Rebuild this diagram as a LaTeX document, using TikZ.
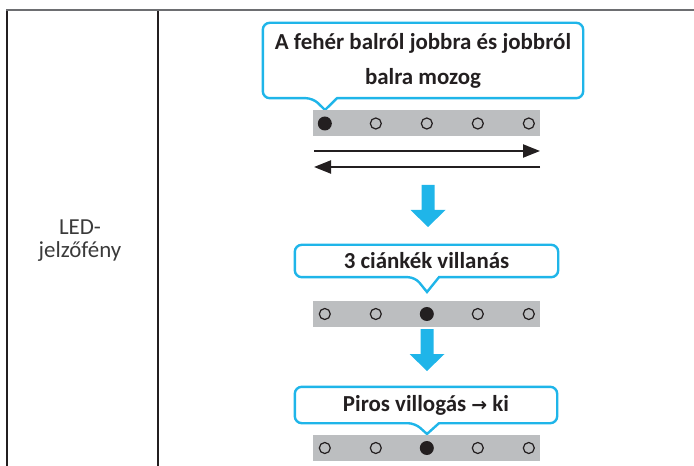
\documentclass[tikz,border=0pt]{standalone}
\usepackage{fontspec}
\setmainfont{Carlito}
\newfontfamily\arrowfont{DejaVu Sans}
\usetikzlibrary{arrows.meta,positioning}
\definecolor{LedCyan}  {HTML}{1FB5E9}
\definecolor{BarGray}  {HTML}{BCBEC0}
\definecolor{RuleGray} {HTML}{6D6E71}
\definecolor{InkBlack} {HTML}{231F20}
\definecolor{LabelText}{HTML}{3A3A3A}
\tikzset{
  ledbar/.style={fill=BarGray,minimum width=227bp,minimum height=26bp,inner sep=0pt},
  ledoff/.style={circle,draw=InkBlack,line width=1.2bp,minimum size=11bp,inner sep=0pt},
  ledon/.style={circle,fill=InkBlack,minimum size=14bp,inner sep=0pt},
  bubble/.style={inner sep=0pt,align=center,text=InkBlack,
                 font=\fontsize{23}{35}\selectfont\bfseries},
  bubbleline/.style={draw=LedCyan,line width=2.4bp},
  moveline/.style={draw=InkBlack,line width=2.2bp,-{Triangle[length=17bp,width=13bp]}},
  tablerule/.style={draw=RuleGray,line width=2bp},
  colrule/.style={draw=InkBlack,line width=1.3bp},
  downarrow/.pic={
    \fill[LedCyan] (-6.5,0) -- (6.5,0) -- (6.5,25) -- (17.5,25) -- (0,42)
      -- (-17.5,25) -- (-6.5,25) -- cycle;
  }
}
% bubble outline with pointer down to #2
\newcommand{\bubbleoutline}[2]{%
  \draw[bubbleline] (#2) -- ([xshift=12bp]#2 |- #1.south) [rounded corners=7bp]
    -- (#1.south east) -- (#1.north east) -- (#1.north west) -- (#1.south west)
    -- ([xshift=-12bp]#2 |- #1.south) [sharp corners] -- cycle;
}
% row of five leds, #3 is the lit one
\newcommand{\ledrow}[3]{%
  \node[ledbar] (#1) at (426.5,#2) {};
  \foreach \k [evaluate=\k as \dx using 12+(\k-1)*51] in {1,...,5}{
    \ifnum\k=#3
      \node[ledon] (#1-\k) at ([xshift=\dx bp]#1.west) {};
    \else
      \node[ledoff] (#1-\k) at ([xshift=\dx bp]#1.west) {};
    \fi
  }
}

\begin{document}
\begin{tikzpicture}[x=1bp,y=-1bp]
  \useasboundingbox (0,0) rectangle (694,466);

  % table frame
  \draw[colrule] (7,10) -- (7,466);
  \draw[colrule] (158,10) -- (158,466);
  \draw[tablerule] (6,10) -- (694,10);

  \node[text=LabelText,align=center,font=\fontsize{23}{23}\selectfont]
    (ledlabel) at (80,241) {LED-\\jelzőfény};

  % step 1
  \node[bubble,minimum width=320bp,minimum height=75bp] (bubble1) at (423,60.5)
    {A fehér balról jobbra és jobbról\\balra mozog};
  \coordinate (tip1) at (325,110);
  \bubbleoutline{bubble1}{tip1}
  \ledrow{bar1}{123.5}{1}

  \coordinate (right0) at (314,151);
  \coordinate (right1) at (540,151);
  \coordinate (left0) at (540,167);
  \coordinate (left1) at (314,167);
  \draw[moveline] (right0) -- (right1);
  \draw[moveline] (left0) -- (left1);

  \pic at (428,185) {downarrow};

  % step 2
  \node[bubble,minimum width=263bp,minimum height=32bp] (bubble2) at (426.5,261)
    {3 ciánkék villanás};
  \coordinate (tip2) at (427,292);
  \bubbleoutline{bubble2}{tip2}
  \ledrow{bar2}{314}{3}

  \pic at (427,329) {downarrow};

  % step 3
  \node[bubble,minimum width=262bp,minimum height=36bp] (bubble3) at (426,405)
    {Piros villogás {\arrowfont\bfseries\fontsize{19}{20}\selectfont →} ki};
  \coordinate (tip3) at (427,434);
  \bubbleoutline{bubble3}{tip3}
  \ledrow{bar3}{448}{3}
\end{tikzpicture}
\end{document}
